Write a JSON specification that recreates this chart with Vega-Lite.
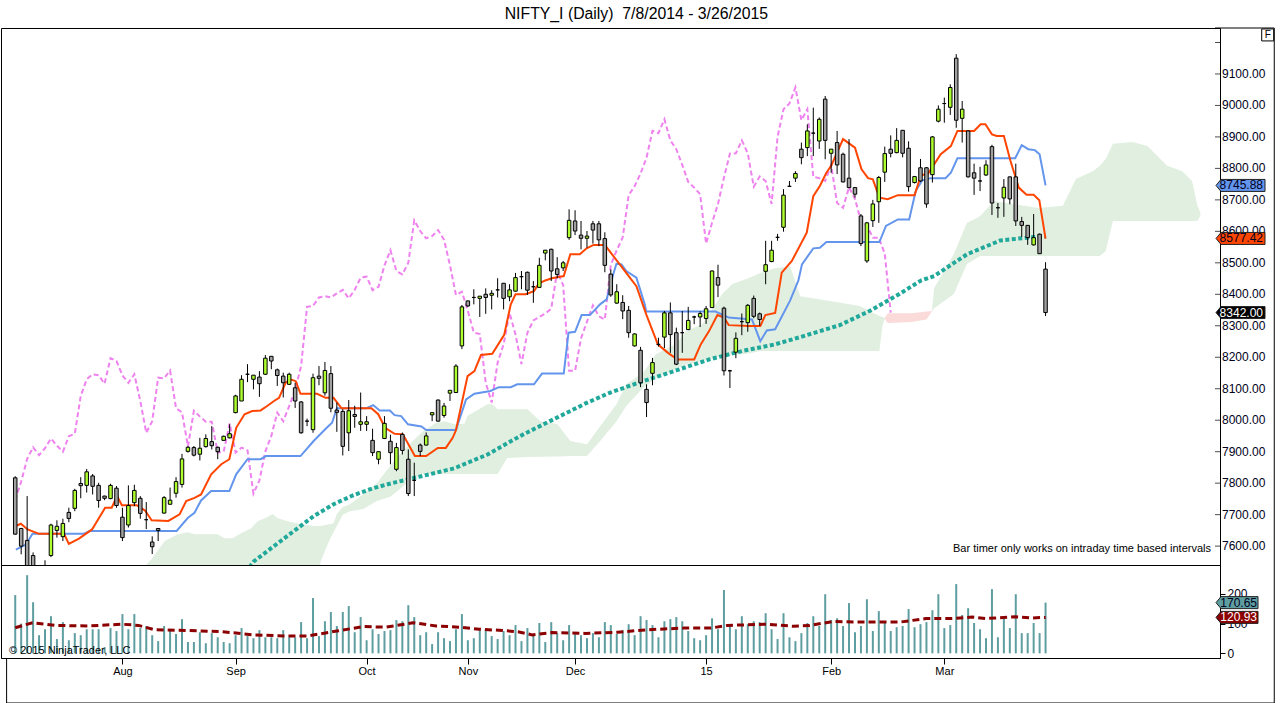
{
  "$schema": "https://vega.github.io/schema/vega-lite/v6.json",
  "autosize": {"type": "pad"},
  "padding": 0,
  "background": "white",
  "bounds": "flush",
  "spacing": 0,
  "config": {
    "view": {"stroke": "black", "strokeWidth": 1},
    "axis": {"grid": false, "labelFont": "Liberation Sans", "labelFontSize": 12, "labelColor": "#000020", "tickColor": "black", "domainColor": "black", "labelOverlap": false, "labelFlush": false, "labelBound": false}
  },
  "datasets": {
    "bars": [
      {"i":0,"o":7817,"h":7822,"l":7636,"c":7638,"v":196,"k":7746},
      {"i":1,"o":7656,"h":7658,"l":7574,"c":7600,"v":100,"k":7805},
      {"i":2,"o":7618,"h":7759,"l":7490,"c":7530,"v":263,"k":7877},
      {"i":3,"o":7570,"h":7580,"l":7450,"c":7470,"v":172,"k":7914},
      {"i":4,"o":7470,"h":7500,"l":7420,"c":7450,"v":61,"k":7889},
      {"i":5,"o":7460,"h":7555,"l":7440,"c":7535,"v":81,"k":7911},
      {"i":6,"o":7570,"h":7671,"l":7565,"c":7667,"v":125,"k":7942},
      {"i":7,"o":7650,"h":7682,"l":7627,"c":7663,"v":48,"k":7919},
      {"i":8,"o":7630,"h":7687,"l":7616,"c":7672,"v":105,"k":7900},
      {"i":9,"o":7707,"h":7722,"l":7676,"c":7688,"v":44,"k":7949},
      {"i":10,"o":7720,"h":7782,"l":7711,"c":7777,"v":68,"k":7957},
      {"i":11,"o":7799,"h":7819,"l":7752,"c":7792,"v":61,"k":8077},
      {"i":12,"o":7793,"h":7845,"l":7770,"c":7836,"v":81,"k":8130},
      {"i":13,"o":7823,"h":7829,"l":7764,"c":7790,"v":81,"k":8146},
      {"i":14,"o":7793,"h":7801,"l":7722,"c":7745,"v":81,"k":8143},
      {"i":15,"o":7759,"h":7760,"l":7746,"c":7752,"v":21,"k":8116},
      {"i":16,"o":7751,"h":7798,"l":7749,"c":7793,"v":85,"k":8197},
      {"i":17,"o":7784,"h":7791,"l":7722,"c":7729,"v":75,"k":8188},
      {"i":18,"o":7692,"h":7722,"l":7616,"c":7627,"v":132,"k":8142},
      {"i":19,"o":7667,"h":7793,"l":7659,"c":7729,"v":81,"k":8119},
      {"i":20,"o":7738,"h":7795,"l":7727,"c":7777,"v":132,"k":8146},
      {"i":21,"o":7752,"h":7759,"l":7687,"c":7704,"v":85,"k":8061},
      {"i":22,"o":7684,"h":7740,"l":7654,"c":7684,"v":92,"k":7960},
      {"i":23,"o":7613,"h":7631,"l":7575,"c":7598,"v":61,"k":7997},
      {"i":24,"o":7656,"h":7657,"l":7616,"c":7650,"v":41,"k":8135},
      {"i":25,"o":7705,"h":7759,"l":7703,"c":7754,"v":92,"k":8133},
      {"i":26,"o":7733,"h":7786,"l":7731,"c":7746,"v":75,"k":8158},
      {"i":27,"o":7768,"h":7819,"l":7754,"c":7805,"v":65,"k":8038},
      {"i":28,"o":7796,"h":7893,"l":7786,"c":7877,"v":115,"k":8025},
      {"i":29,"o":7901,"h":7918,"l":7897,"c":7914,"v":38,"k":7917},
      {"i":30,"o":7913,"h":7918,"l":7885,"c":7889,"v":38,"k":8030},
      {"i":31,"o":7892,"h":7944,"l":7872,"c":7911,"v":71,"k":8012},
      {"i":32,"o":7916,"h":7955,"l":7913,"c":7942,"v":34,"k":7995},
      {"i":33,"o":7932,"h":7981,"l":7907,"c":7919,"v":68,"k":7995},
      {"i":34,"o":7914,"h":7916,"l":7876,"c":7900,"v":54,"k":7897},
      {"i":35,"o":7936,"h":7951,"l":7934,"c":7949,"v":38,"k":7900},
      {"i":36,"o":7944,"h":7987,"l":7942,"c":7957,"v":34,"k":7990},
      {"i":37,"o":8024,"h":8081,"l":8022,"c":8077,"v":61,"k":7897},
      {"i":38,"o":8061,"h":8143,"l":8061,"c":8130,"v":85,"k":7913},
      {"i":39,"o":8146,"h":8178,"l":8121,"c":8146,"v":58,"k":7904},
      {"i":40,"o":8130,"h":8143,"l":8098,"c":8143,"v":51,"k":7767},
      {"i":41,"o":8137,"h":8156,"l":8074,"c":8116,"v":78,"k":7809},
      {"i":42,"o":8146,"h":8207,"l":8144,"c":8197,"v":54,"k":7901},
      {"i":43,"o":8203,"h":8204,"l":8162,"c":8188,"v":54,"k":7950},
      {"i":44,"o":8160,"h":8164,"l":8109,"c":8142,"v":51,"k":8024},
      {"i":45,"o":8140,"h":8151,"l":8072,"c":8119,"v":78,"k":7997},
      {"i":46,"o":8114,"h":8151,"l":8112,"c":8146,"v":54,"k":8045},
      {"i":47,"o":8103,"h":8119,"l":8039,"c":8061,"v":54,"k":8095},
      {"i":48,"o":8058,"h":8061,"l":7957,"c":7960,"v":105,"k":8172},
      {"i":49,"o":7997,"h":8005,"l":7981,"c":7997,"v":51,"k":8360},
      {"i":50,"o":7970,"h":8148,"l":7960,"c":8135,"v":186,"k":8363},
      {"i":51,"o":8140,"h":8172,"l":8111,"c":8133,"v":58,"k":8390},
      {"i":52,"o":8087,"h":8185,"l":8078,"c":8158,"v":108,"k":8394},
      {"i":53,"o":8148,"h":8172,"l":8025,"c":8038,"v":139,"k":8390},
      {"i":54,"o":8032,"h":8056,"l":7963,"c":8025,"v":92,"k":8403},
      {"i":55,"o":8028,"h":8035,"l":7888,"c":7917,"v":139,"k":8414},
      {"i":56,"o":7960,"h":8064,"l":7902,"c":8030,"v":159,"k":8387},
      {"i":57,"o":8018,"h":8046,"l":7976,"c":8012,"v":71,"k":8414},
      {"i":58,"o":7987,"h":8088,"l":7966,"c":7995,"v":122,"k":8453},
      {"i":59,"o":7987,"h":8013,"l":7966,"c":7995,"v":44,"k":8456},
      {"i":60,"o":7936,"h":7973,"l":7886,"c":7897,"v":81,"k":8413},
      {"i":61,"o":7876,"h":7900,"l":7860,"c":7900,"v":65,"k":8424},
      {"i":62,"o":7942,"h":8013,"l":7940,"c":7990,"v":75,"k":8492},
      {"i":63,"o":7933,"h":7954,"l":7860,"c":7897,"v":78,"k":8540},
      {"i":64,"o":7844,"h":7928,"l":7838,"c":7913,"v":112,"k":8474},
      {"i":65,"o":7955,"h":7961,"l":7891,"c":7904,"v":108,"k":8463},
      {"i":66,"o":7876,"h":7907,"l":7759,"c":7767,"v":162,"k":8500},
      {"i":67,"o":7809,"h":7865,"l":7759,"c":7809,"v":122,"k":8635},
      {"i":68,"o":7921,"h":7926,"l":7886,"c":7901,"v":61,"k":8601},
      {"i":69,"o":7921,"h":7961,"l":7920,"c":7950,"v":71,"k":8578},
      {"i":70,"o":8017,"h":8024,"l":7997,"c":8024,"v":31,"k":8585},
      {"i":71,"o":8064,"h":8066,"l":7995,"c":7997,"v":71,"k":8604},
      {"i":72,"o":8015,"h":8055,"l":8008,"c":8045,"v":51,"k":8573},
      {"i":73,"o":8086,"h":8095,"l":8061,"c":8095,"v":41,"k":8492},
      {"i":74,"o":8088,"h":8178,"l":8086,"c":8172,"v":81,"k":8398},
      {"i":75,"o":8236,"h":8366,"l":8226,"c":8360,"v":132,"k":8408},
      {"i":76,"o":8379,"h":8380,"l":8360,"c":8363,"v":44,"k":8347},
      {"i":77,"o":8390,"h":8416,"l":8368,"c":8390,"v":51,"k":8278},
      {"i":78,"o":8387,"h":8394,"l":8328,"c":8394,"v":78,"k":8274},
      {"i":79,"o":8400,"h":8419,"l":8338,"c":8390,"v":81,"k":8119},
      {"i":80,"o":8397,"h":8413,"l":8352,"c":8403,"v":58,"k":8056},
      {"i":81,"o":8414,"h":8451,"l":8390,"c":8414,"v":48,"k":8183},
      {"i":82,"o":8435,"h":8436,"l":8352,"c":8387,"v":75,"k":8241},
      {"i":83,"o":8392,"h":8432,"l":8378,"c":8414,"v":61,"k":8341},
      {"i":84,"o":8410,"h":8468,"l":8408,"c":8453,"v":95,"k":8272},
      {"i":85,"o":8456,"h":8474,"l":8416,"c":8456,"v":41,"k":8178},
      {"i":86,"o":8470,"h":8472,"l":8398,"c":8413,"v":85,"k":8278},
      {"i":87,"o":8424,"h":8442,"l":8373,"c":8424,"v":61,"k":8317},
      {"i":88,"o":8422,"h":8516,"l":8420,"c":8492,"v":102,"k":8328},
      {"i":89,"o":8531,"h":8541,"l":8508,"c":8540,"v":38,"k":8339},
      {"i":90,"o":8543,"h":8545,"l":8442,"c":8474,"v":105,"k":8354},
      {"i":91,"o":8481,"h":8518,"l":8451,"c":8463,"v":68,"k":8474},
      {"i":92,"o":8484,"h":8506,"l":8474,"c":8500,"v":44,"k":8429},
      {"i":93,"o":8580,"h":8670,"l":8573,"c":8635,"v":95,"k":8157},
      {"i":94,"o":8633,"h":8667,"l":8588,"c":8601,"v":68,"k":8157},
      {"i":95,"o":8588,"h":8633,"l":8543,"c":8578,"v":61,"k":8260},
      {"i":96,"o":8578,"h":8601,"l":8548,"c":8585,"v":51,"k":8313},
      {"i":97,"o":8624,"h":8633,"l":8561,"c":8604,"v":68,"k":8365},
      {"i":98,"o":8624,"h":8633,"l":8553,"c":8573,"v":54,"k":8330},
      {"i":99,"o":8577,"h":8597,"l":8470,"c":8492,"v":105,"k":8320},
      {"i":100,"o":8464,"h":8479,"l":8392,"c":8398,"v":95,"k":8494},
      {"i":101,"o":8372,"h":8432,"l":8370,"c":8408,"v":65,"k":8540},
      {"i":102,"o":8374,"h":8397,"l":8321,"c":8347,"v":78,"k":8581},
      {"i":103,"o":8349,"h":8363,"l":8262,"c":8278,"v":98,"k":8715},
      {"i":104,"o":8236,"h":8276,"l":8234,"c":8274,"v":61,"k":8743},
      {"i":105,"o":8222,"h":8233,"l":8105,"c":8119,"v":125,"k":8784},
      {"i":106,"o":8098,"h":8114,"l":8010,"c":8056,"v":112,"k":8834},
      {"i":107,"o":8149,"h":8198,"l":8111,"c":8183,"v":95,"k":8919},
      {"i":108,"o":8241,"h":8262,"l":8234,"c":8241,"v":54,"k":8912},
      {"i":109,"o":8264,"h":8347,"l":8229,"c":8341,"v":108,"k":8956},
      {"i":110,"o":8341,"h":8374,"l":8214,"c":8272,"v":115,"k":8889},
      {"i":111,"o":8278,"h":8294,"l":8175,"c":8178,"v":122,"k":8861},
      {"i":112,"o":8278,"h":8347,"l":8214,"c":8278,"v":108,"k":8811},
      {"i":113,"o":8288,"h":8360,"l":8286,"c":8317,"v":75,"k":8757},
      {"i":114,"o":8328,"h":8332,"l":8305,"c":8328,"v":51,"k":8739},
      {"i":115,"o":8328,"h":8346,"l":8296,"c":8339,"v":44,"k":8718},
      {"i":116,"o":8323,"h":8363,"l":8306,"c":8354,"v":61,"k":8561},
      {"i":117,"o":8358,"h":8476,"l":8356,"c":8474,"v":118,"k":8627},
      {"i":118,"o":8453,"h":8494,"l":8391,"c":8429,"v":81,"k":8687},
      {"i":119,"o":8356,"h":8361,"l":8142,"c":8157,"v":213,"k":8771},
      {"i":120,"o":8157,"h":8160,"l":8102,"c":8157,"v":92,"k":8847},
      {"i":121,"o":8216,"h":8279,"l":8197,"c":8260,"v":81,"k":8848},
      {"i":122,"o":8313,"h":8339,"l":8270,"c":8313,"v":125,"k":8889},
      {"i":123,"o":8310,"h":8369,"l":8281,"c":8365,"v":98,"k":8848},
      {"i":124,"o":8387,"h":8396,"l":8324,"c":8330,"v":108,"k":8742},
      {"i":125,"o":8338,"h":8342,"l":8300,"c":8320,"v":105,"k":8774},
      {"i":126,"o":8473,"h":8570,"l":8432,"c":8494,"v":135,"k":8760},
      {"i":127,"o":8504,"h":8570,"l":8502,"c":8540,"v":81,"k":8687},
      {"i":128,"o":8581,"h":8592,"l":8570,"c":8581,"v":48,"k":8900},
      {"i":129,"o":8613,"h":8734,"l":8599,"c":8715,"v":135,"k":8988},
      {"i":130,"o":8743,"h":8760,"l":8742,"c":8743,"v":54,"k":9006},
      {"i":131,"o":8769,"h":8791,"l":8757,"c":8784,"v":41,"k":9057},
      {"i":132,"o":8861,"h":8882,"l":8813,"c":8834,"v":68,"k":8953},
      {"i":133,"o":8866,"h":8940,"l":8839,"c":8919,"v":102,"k":8988},
      {"i":134,"o":8912,"h":8993,"l":8839,"c":8912,"v":125,"k":8773},
      {"i":135,"o":8887,"h":8962,"l":8862,"c":8956,"v":92,"k":8769},
      {"i":136,"o":9020,"h":9030,"l":8829,"c":8889,"v":199,"k":8760},
      {"i":137,"o":8848,"h":8861,"l":8786,"c":8861,"v":112,"k":8811},
      {"i":138,"o":8882,"h":8919,"l":8782,"c":8811,"v":118,"k":8690},
      {"i":139,"o":8845,"h":8850,"l":8755,"c":8757,"v":92,"k":8675},
      {"i":140,"o":8769,"h":8893,"l":8737,"c":8739,"v":169,"k":8740},
      {"i":141,"o":8739,"h":8740,"l":8707,"c":8718,"v":71,"k":8703},
      {"i":142,"o":8649,"h":8655,"l":8553,"c":8561,"v":92,"k":8633},
      {"i":143,"o":8506,"h":8630,"l":8500,"c":8627,"v":182,"k":8619},
      {"i":144,"o":8634,"h":8700,"l":8614,"c":8687,"v":75,"k":8580},
      {"i":145,"o":8694,"h":8776,"l":8627,"c":8771,"v":142,"k":8580},
      {"i":146,"o":8788,"h":8869,"l":8757,"c":8847,"v":108,"k":8529},
      {"i":147,"o":8861,"h":8905,"l":8835,"c":8848,"v":75,"k":8342},
      {"i":148,"o":8850,"h":8928,"l":8848,"c":8889,"v":88},
      {"i":149,"o":8921,"h":8922,"l":8835,"c":8848,"v":92},
      {"i":150,"o":8864,"h":8886,"l":8726,"c":8742,"v":149},
      {"i":151,"o":8755,"h":8776,"l":8752,"c":8774,"v":88},
      {"i":152,"o":8802,"h":8830,"l":8757,"c":8760,"v":98},
      {"i":153,"o":8802,"h":8804,"l":8675,"c":8687,"v":105},
      {"i":154,"o":8780,"h":8903,"l":8755,"c":8900,"v":145},
      {"i":155,"o":8950,"h":9000,"l":8946,"c":8988,"v":199},
      {"i":156,"o":9006,"h":9025,"l":8945,"c":9006,"v":85},
      {"i":157,"o":8994,"h":9067,"l":8970,"c":9057,"v":95},
      {"i":158,"o":9150,"h":9163,"l":8929,"c":8953,"v":233},
      {"i":159,"o":8959,"h":9014,"l":8882,"c":8988,"v":129},
      {"i":160,"o":8919,"h":8920,"l":8771,"c":8773,"v":152},
      {"i":161,"o":8786,"h":8815,"l":8716,"c":8769,"v":102},
      {"i":162,"o":8760,"h":8805,"l":8728,"c":8760,"v":81},
      {"i":163,"o":8779,"h":8826,"l":8776,"c":8811,"v":51},
      {"i":164,"o":8869,"h":8875,"l":8652,"c":8690,"v":216},
      {"i":165,"o":8675,"h":8690,"l":8643,"c":8675,"v":54},
      {"i":166,"o":8706,"h":8766,"l":8646,"c":8740,"v":118},
      {"i":167,"o":8773,"h":8774,"l":8686,"c":8703,"v":85},
      {"i":168,"o":8773,"h":8815,"l":8617,"c":8633,"v":199},
      {"i":169,"o":8631,"h":8646,"l":8582,"c":8619,"v":68},
      {"i":170,"o":8619,"h":8620,"l":8557,"c":8580,"v":68},
      {"i":171,"o":8557,"h":8655,"l":8555,"c":8580,"v":102},
      {"i":172,"o":8591,"h":8593,"l":8528,"c":8529,"v":68},
      {"i":173,"o":8480,"h":8502,"l":8331,"c":8342,"v":170.65}
    ],
    "tenkan": [
      {"i":0.1,"p":7664},{"i":0.95,"p":7671},{"i":2.07,"p":7653},{"i":4.0,"p":7639},{"i":8.2,"p":7639},{"i":9.0,"p":7607},{"i":10.7,"p":7624},{"i":12.9,"p":7653},{"i":15.1,"p":7722},{"i":16.2,"p":7722},{"i":17.1,"p":7759},{"i":17.9,"p":7730},{"i":20.4,"p":7730},{"i":21.8,"p":7713},{"i":22.9,"p":7682},{"i":25.7,"p":7680},{"i":27.6,"p":7701},{"i":28.7,"p":7743},{"i":30.1,"p":7753},{"i":31.2,"p":7764},{"i":32.9,"p":7828},{"i":34.6,"p":7860},{"i":35.95,"p":7876},{"i":37.1,"p":7976},{"i":38.5,"p":8019},{"i":39.8,"p":8029},{"i":41.2,"p":8031},{"i":42.3,"p":8045},{"i":43.45,"p":8061},{"i":44.3,"p":8071},{"i":45.4,"p":8119},{"i":46.2,"p":8130},{"i":47.1,"p":8124},{"i":47.9,"p":8084},{"i":50.7,"p":8084},{"i":52.1,"p":8071},{"i":53.45,"p":8071},{"i":54.8,"p":8038},{"i":59.8,"p":8038},{"i":60.95,"p":8019},{"i":62.1,"p":7976},{"i":63.7,"p":7957},{"i":65.1,"p":7955},{"i":66.5,"p":7907},{"i":67.1,"p":7886},{"i":69.0,"p":7886},{"i":70.95,"p":7912},{"i":72.3,"p":7912},{"i":73.45,"p":7944},{"i":74.0,"p":7968},{"i":75.95,"p":8140},{"i":77.1,"p":8156},{"i":78.2,"p":8207},{"i":80.1,"p":8211},{"i":82.1,"p":8271},{"i":83.2,"p":8368},{"i":84.0,"p":8400},{"i":85.7,"p":8400},{"i":87.1,"p":8410},{"i":87.9,"p":8434},{"i":89.0,"p":8444},{"i":90.1,"p":8451},{"i":92.1,"p":8458},{"i":93.2,"p":8527},{"i":94.8,"p":8527},{"i":95.95,"p":8546},{"i":97.1,"p":8557},{"i":99.0,"p":8557},{"i":99.8,"p":8537},{"i":101.5,"p":8495},{"i":103.2,"p":8453},{"i":104.3,"p":8426},{"i":105.95,"p":8336},{"i":107.9,"p":8241},{"i":109.6,"p":8214},{"i":111.2,"p":8193},{"i":114.0,"p":8193},{"i":115.1,"p":8241},{"i":116.5,"p":8283},{"i":117.9,"p":8334},{"i":119.0,"p":8326},{"i":119.8,"p":8302},{"i":123.2,"p":8299},{"i":125.1,"p":8299},{"i":125.95,"p":8334},{"i":127.6,"p":8341},{"i":128.7,"p":8469},{"i":130.4,"p":8506},{"i":132.9,"p":8596},{"i":134.0,"p":8712},{"i":135.1,"p":8744},{"i":136.2,"p":8786},{"i":137.0,"p":8808},{"i":139.0,"p":8893},{"i":141.0,"p":8866},{"i":142.1,"p":8797},{"i":143.2,"p":8769},{"i":144.0,"p":8765},{"i":145.1,"p":8707},{"i":146.5,"p":8702},{"i":148.2,"p":8715},{"i":151.0,"p":8715},{"i":152.1,"p":8779},{"i":153.2,"p":8781},{"i":155.4,"p":8845},{"i":157.1,"p":8871},{"i":158.2,"p":8919},{"i":161.0,"p":8919},{"i":162.1,"p":8940},{"i":162.9,"p":8940},{"i":164.0,"p":8908},{"i":164.8,"p":8903},{"i":166.0,"p":8903},{"i":167.1,"p":8824},{"i":168.5,"p":8739},{"i":169.8,"p":8716},{"i":171.0,"p":8716},{"i":171.95,"p":8699},{"i":173.0,"p":8577}
    ],
    "kijun": [
      {"i":0.1,"p":7589},{"i":1.8,"p":7605},{"i":2.9,"p":7639},{"i":11.5,"p":7639},{"i":12.5,"p":7648},{"i":27.1,"p":7648},{"i":29.0,"p":7690},{"i":30.1,"p":7706},{"i":31.2,"p":7745},{"i":32.9,"p":7775},{"i":35.95,"p":7775},{"i":37.1,"p":7828},{"i":39.0,"p":7876},{"i":41.2,"p":7876},{"i":42.1,"p":7886},{"i":47.9,"p":7886},{"i":50.1,"p":7934},{"i":52.3,"p":7976},{"i":53.2,"p":7992},{"i":54.0,"p":8038},{"i":59.0,"p":8038},{"i":60.1,"p":8048},{"i":61.2,"p":8031},{"i":62.9,"p":8031},{"i":63.7,"p":8016},{"i":64.8,"p":8013},{"i":65.95,"p":7987},{"i":68.2,"p":7980},{"i":69.0,"p":7969},{"i":74.0,"p":7969},{"i":75.7,"p":8066},{"i":77.1,"p":8084},{"i":79.8,"p":8093},{"i":81.2,"p":8105},{"i":83.2,"p":8105},{"i":84.3,"p":8114},{"i":87.1,"p":8114},{"i":88.45,"p":8148},{"i":92.1,"p":8148},{"i":92.9,"p":8278},{"i":94.0,"p":8281},{"i":95.1,"p":8334},{"i":96.5,"p":8334},{"i":98.2,"p":8368},{"i":99.3,"p":8384},{"i":100.4,"p":8463},{"i":100.95,"p":8497},{"i":101.8,"p":8495},{"i":102.6,"p":8474},{"i":104.3,"p":8453},{"i":105.7,"p":8368},{"i":105.95,"p":8345},{"i":117.6,"p":8345},{"i":119.8,"p":8326},{"i":123.7,"p":8320},{"i":125.1,"p":8251},{"i":126.2,"p":8285},{"i":127.6,"p":8289},{"i":130.1,"p":8380},{"i":131.5,"p":8444},{"i":132.1,"p":8495},{"i":134.0,"p":8546},{"i":135.1,"p":8548},{"i":136.2,"p":8566},{"i":145.1,"p":8566},{"i":146.2,"p":8617},{"i":148.2,"p":8638},{"i":150.1,"p":8638},{"i":151.2,"p":8728},{"i":152.3,"p":8762},{"i":153.7,"p":8769},{"i":156.2,"p":8769},{"i":157.1,"p":8786},{"i":158.2,"p":8832},{"i":167.9,"p":8832},{"i":169.0,"p":8874},{"i":170.1,"p":8861},{"i":171.2,"p":8858},{"i":172.0,"p":8845},{"i":173.0,"p":8746}
    ],
    "cloud": [
      {"i":22.1,"t":7543,"b":7500,"s":"g1"},{"i":22.9,"t":7559,"b":7500,"s":"g1"},{"i":25.1,"t":7616,"b":7500,"s":"g1"},{"i":27.3,"t":7638,"b":7500,"s":"g1"},{"i":29.0,"t":7644,"b":7500,"s":"g1"},{"i":30.1,"t":7638,"b":7500,"s":"g1"},{"i":34.0,"t":7638,"b":7500,"s":"g1"},{"i":35.1,"t":7625,"b":7500,"s":"g1"},{"i":36.5,"t":7625,"b":7500,"s":"g1"},{"i":37.9,"t":7641,"b":7500,"s":"g1"},{"i":39.6,"t":7657,"b":7500,"s":"g1"},{"i":40.7,"t":7679,"b":7500,"s":"g1"},{"i":42.3,"t":7692,"b":7500,"s":"g1"},{"i":43.2,"t":7702,"b":7500,"s":"g1"},{"i":44.0,"t":7689,"b":7500,"s":"g1"},{"i":45.7,"t":7679,"b":7500,"s":"g1"},{"i":47.9,"t":7670,"b":7500,"s":"g1"},{"i":50.1,"t":7664,"b":7500,"s":"g1"},{"i":50.9,"t":7664,"b":7500,"s":"g1"},{"i":51.3,"t":7664,"b":7552,"s":"g1"},{"i":52.9,"t":7670,"b":7625,"s":"g1"},{"i":53.45,"t":7673,"b":7644,"s":"g1"},{"i":54.0,"t":7702,"b":7664,"s":"g1"},{"i":55.0,"t":7724,"b":7700,"s":"g1"},{"i":56.2,"t":7733,"b":7711,"s":"g1"},{"i":58.45,"t":7765,"b":7718,"s":"g1"},{"i":60.7,"t":7800,"b":7743,"s":"g1"},{"i":62.9,"t":7854,"b":7756,"s":"g1"},{"i":64.0,"t":7880,"b":7772,"s":"g1"},{"i":66.2,"t":7924,"b":7807,"s":"g1"},{"i":68.45,"t":7965,"b":7829,"s":"g1"},{"i":70.6,"t":7991,"b":7829,"s":"g1"},{"i":72.1,"t":7997,"b":7829,"s":"g1"},{"i":73.7,"t":7988,"b":7829,"s":"g1"},{"i":75.4,"t":7988,"b":7829,"s":"g1"},{"i":75.9,"t":8013,"b":7829,"s":"g1"},{"i":79.3,"t":8051,"b":7829,"s":"g1"},{"i":80.1,"t":8051,"b":7829,"s":"g1"},{"i":81.0,"t":8035,"b":7829,"s":"g1"},{"i":82.6,"t":8035,"b":7880,"s":"g1"},{"i":86.0,"t":8035,"b":7883,"s":"g1"},{"i":88.2,"t":7997,"b":7884,"s":"g1"},{"i":91.0,"t":7988,"b":7885,"s":"g1"},{"i":93.2,"t":7934,"b":7886,"s":"g1"},{"i":96.0,"t":7924,"b":7886,"s":"g1"},{"i":98.5,"t":7988,"b":7940,"s":"g1"},{"i":100.95,"t":8051,"b":7997,"s":"g1"},{"i":102.6,"t":8115,"b":8045,"s":"g1"},{"i":105.4,"t":8150,"b":8102,"s":"g1"},{"i":107.6,"t":8210,"b":8134,"s":"g1"},{"i":110.95,"t":8242,"b":8163,"s":"g1"},{"i":112.6,"t":8283,"b":8178,"s":"g1"},{"i":115.4,"t":8306,"b":8188,"s":"g1"},{"i":118.7,"t":8401,"b":8204,"s":"g1"},{"i":120.4,"t":8433,"b":8207,"s":"g1"},{"i":123.2,"t":8452,"b":8212,"s":"g1"},{"i":125.1,"t":8468,"b":8220,"s":"g1"},{"i":127.6,"t":8483,"b":8220,"s":"g1"},{"i":130.1,"t":8490,"b":8220,"s":"g1"},{"i":131.8,"t":8394,"b":8220,"s":"g1"},{"i":136.8,"t":8379,"b":8220,"s":"g1"},{"i":141.8,"t":8363,"b":8220,"s":"g1"},{"i":145.1,"t":8331,"b":8220,"s":"g1"},{"i":145.6,"t":8328,"b":8300,"s":"g1"},{"i":146.0,"t":8325,"b":8322,"s":"g1"},
      {"i":146.0,"t":8325,"b":8322,"s":"p"},{"i":146.5,"t":8340,"b":8309,"s":"p"},{"i":150.5,"t":8340,"b":8312,"s":"p"},{"i":153.0,"t":8345,"b":8320,"s":"p"},{"i":153.9,"t":8347,"b":8345,"s":"p"},
      {"i":153.9,"t":8347,"b":8345,"s":"g2"},{"i":154.3,"t":8420,"b":8356,"s":"g2"},{"i":157.6,"t":8528,"b":8401,"s":"g2"},{"i":159.8,"t":8627,"b":8496,"s":"g2"},{"i":161.5,"t":8642,"b":8515,"s":"g2"},{"i":162.1,"t":8650,"b":8522,"s":"g2"},{"i":164.3,"t":8696,"b":8522,"s":"g2"},{"i":171.8,"t":8674,"b":8522,"s":"g2"},{"i":175.9,"t":8681,"b":8522,"s":"g2"},{"i":178.1,"t":8766,"b":8522,"s":"g2"},{"i":181.0,"t":8792,"b":8522,"s":"g2"},{"i":182.1,"t":8808,"b":8522,"s":"g2"},{"i":183.1,"t":8830,"b":8537,"s":"g2"},{"i":184.3,"t":8878,"b":8633,"s":"g2"},{"i":187.6,"t":8884,"b":8633,"s":"g2"},{"i":190.1,"t":8871,"b":8633,"s":"g2"},{"i":193.4,"t":8808,"b":8633,"s":"g2"},{"i":195.9,"t":8792,"b":8633,"s":"g2"},{"i":197.6,"t":8760,"b":8633,"s":"g2"},{"i":198.5,"t":8681,"b":8633,"s":"g2"},{"i":199.0,"t":8660,"b":8650,"s":"g2"}
    ],
    "sma": [
      {"i":38,"p":7500},{"i":40.1,"p":7552},{"i":43.45,"p":7600},{"i":46.8,"p":7648},{"i":50.1,"p":7695},{"i":53.45,"p":7733},{"i":56.8,"p":7762},{"i":60.1,"p":7784},{"i":63.45,"p":7801},{"i":68.2,"p":7822},{"i":73.7,"p":7847},{"i":79.3,"p":7891},{"i":84.8,"p":7950},{"i":90.4,"p":8003},{"i":95.95,"p":8055},{"i":99.8,"p":8087},{"i":105.4,"p":8124},{"i":110.95,"p":8158},{"i":116.5,"p":8193},{"i":122.1,"p":8220},{"i":127.6,"p":8241},{"i":131.8,"p":8264},{"i":138.45,"p":8302},{"i":143.45,"p":8347},{"i":148.45,"p":8401},{"i":152.1,"p":8444},{"i":154.3,"p":8458},{"i":159.8,"p":8527},{"i":165.4,"p":8571},{"i":171.0,"p":8582},{"i":173.0,"p":8584}
    ],
    "vma": [
      {"i":0,"v":86},{"i":2.9,"v":103},{"i":6.8,"v":94},{"i":12.3,"v":92},{"i":17.9,"v":98},{"i":20.7,"v":94},{"i":23.5,"v":79},{"i":29.0,"v":77},{"i":34.6,"v":73},{"i":40.1,"v":62},{"i":45.7,"v":58},{"i":49.0,"v":58},{"i":54.0,"v":75},{"i":58.5,"v":90},{"i":62.3,"v":88},{"i":66.8,"v":103},{"i":70.7,"v":92},{"i":74.6,"v":88},{"i":77.9,"v":81},{"i":81.8,"v":77},{"i":84.6,"v":72},{"i":86.8,"v":62},{"i":90.1,"v":70},{"i":95.7,"v":67},{"i":101.2,"v":71},{"i":104.6,"v":77},{"i":107.9,"v":81},{"i":112.3,"v":85},{"i":116.8,"v":85},{"i":119.6,"v":94},{"i":126.2,"v":98},{"i":130.7,"v":91},{"i":133.4,"v":94},{"i":137.3,"v":107},{"i":142.9,"v":105},{"i":148.5,"v":105},{"i":152.9,"v":117},{"i":157.3,"v":117},{"i":160.7,"v":122},{"i":162.9,"v":117},{"i":167.9,"v":123},{"i":170.7,"v":119},{"i":173,"v":120.93}
    ],
    "ticks": [
      {"v":7600,"lab":"7600.00"},{"v":7700,"lab":"7700.00"},{"v":7800,"lab":"7800.00"},{"v":7900,"lab":"7900.00"},{"v":8000,"lab":"8000.00"},{"v":8100,"lab":"8100.00"},{"v":8200,"lab":"8200.00"},{"v":8300,"lab":"8300.00"},{"v":8400,"lab":"8400.00"},{"v":8500,"lab":"8500.00"},{"v":8600,"lab":"8600.00"},{"v":8700,"lab":"8700.00"},{"v":8800,"lab":"8800.00"},{"v":8900,"lab":"8900.00"},{"v":9000,"lab":"9000.00"},{"v":9100,"lab":"9100.00"},{"v":9200,"lab":""}
    ]
  },
  "vconcat": [
    {
      "width": 1219,
      "height": 537,
      "layer": [
        {
          "data": {"name": "cloud"},
          "mark": {"type": "area", "clip": true, "opacity": 1},
          "encoding": {
            "x": {"field": "i", "type": "quantitative", "scale": {"domain": [-1.55, 201.45], "nice": false, "zero": false}, "axis": null},
            "y": {"field": "t", "type": "quantitative", "scale": {"domain": [7540, 9246], "nice": false, "zero": false}, "title": null,
              "axis": {"orient": "right", "title": null, "labels": false, "ticks": false, "domain": true}},
            "y2": {"field": "b"},
            "detail": {"field": "s"},
            "color": {"condition": {"test": "datum.s == 'p'", "value": "#fbdada"}, "value": "#e1efe1"}
          }
        },
        {
          "data": {"name": "bars"},
          "transform": [{"filter": "isValid(datum.k)"}],
          "mark": {"type": "line", "clip": true, "color": "#EE82EE", "strokeWidth": 2, "strokeDash": [5, 3]},
          "encoding": {
            "x": {"field": "i", "type": "quantitative", "scale": {"domain": [-1.55, 201.45], "nice": false, "zero": false}, "axis": null},
            "y": {"field": "k", "type": "quantitative", "scale": {"domain": [7540, 9246], "nice": false, "zero": false}, "title": null}
          }
        },
        {
          "data": {"name": "sma"},
          "mark": {"type": "line", "clip": true, "color": "#20A89A", "strokeWidth": 4, "strokeDash": [4, 2.5], "strokeCap": "butt"},
          "encoding": {
            "x": {"field": "i", "type": "quantitative", "scale": {"domain": [-1.55, 201.45], "nice": false, "zero": false}, "axis": null},
            "y": {"field": "p", "type": "quantitative", "scale": {"domain": [7540, 9246], "nice": false, "zero": false}, "title": null}
          }
        },
        {
          "data": {"name": "kijun"},
          "mark": {"type": "line", "clip": true, "color": "#6495ED", "strokeWidth": 2},
          "encoding": {
            "x": {"field": "i", "type": "quantitative", "scale": {"domain": [-1.55, 201.45], "nice": false, "zero": false}, "axis": null},
            "y": {"field": "p", "type": "quantitative", "scale": {"domain": [7540, 9246], "nice": false, "zero": false}, "title": null}
          }
        },
        {
          "data": {"name": "tenkan"},
          "mark": {"type": "line", "clip": true, "color": "#FF4500", "strokeWidth": 2},
          "encoding": {
            "x": {"field": "i", "type": "quantitative", "scale": {"domain": [-1.55, 201.45], "nice": false, "zero": false}, "axis": null},
            "y": {"field": "p", "type": "quantitative", "scale": {"domain": [7540, 9246], "nice": false, "zero": false}, "title": null}
          }
        },
        {
          "data": {"name": "bars"},
          "mark": {"type": "rule", "clip": true, "color": "black", "strokeWidth": 1},
          "encoding": {
            "x": {"field": "i", "type": "quantitative", "scale": {"domain": [-1.55, 201.45], "nice": false, "zero": false}, "axis": null},
            "y": {"field": "l", "type": "quantitative", "scale": {"domain": [7540, 9246], "nice": false, "zero": false}, "title": null},
            "y2": {"field": "h"}
          }
        },
        {
          "data": {"name": "bars"},
          "mark": {"type": "bar", "clip": true, "width": 3.5, "stroke": "black", "strokeWidth": 1},
          "encoding": {
            "x": {"field": "i", "type": "quantitative", "scale": {"domain": [-1.55, 201.45], "nice": false, "zero": false}, "axis": null},
            "y": {"field": "o", "type": "quantitative", "scale": {"domain": [7540, 9246], "nice": false, "zero": false}, "title": null},
            "y2": {"field": "c"},
            "color": {"condition": {"test": "datum.c >= datum.o", "value": "#ADFF2F"}, "value": "#A0A0A0"}
          }
        },
        {
          "data": {"name": "ticks"},
          "mark": {"type": "tick", "orient": "horizontal", "size": 5, "thickness": 1, "color": "black", "xOffset": 2.5, "clip": false},
          "encoding": {
            "x": {"datum": 201.45, "type": "quantitative", "scale": {"domain": [-1.55, 201.45], "nice": false, "zero": false}, "axis": null},
            "y": {"field": "v", "type": "quantitative", "scale": {"domain": [7540, 9246], "nice": false, "zero": false}, "title": null}
          }
        },
        {
          "data": {"name": "ticks"},
          "mark": {"type": "text", "align": "left", "baseline": "middle", "dx": 7, "font": "Liberation Sans", "fontSize": 12, "color": "#000020", "clip": false},
          "encoding": {
            "x": {"datum": 201.45, "type": "quantitative", "scale": {"domain": [-1.55, 201.45], "nice": false, "zero": false}, "axis": null},
            "y": {"field": "v", "type": "quantitative", "scale": {"domain": [7540, 9246], "nice": false, "zero": false}, "title": null},
            "text": {"field": "lab"}
          }
        },
        {
          "data": {"values": [{"y": 8745.88, "lab": "8745.88", "k": "a"}, {"y": 8577.42, "lab": "8577.42", "k": "b"}, {"y": 8342.0, "lab": "8342.00", "k": "c"}]},
          "mark": {"type": "point", "shape": "M1,0 L6,-6 L50,-6 L50,6 L6,6 Z", "size": 4, "filled": true, "opacity": 1, "stroke": "#222222", "strokeWidth": 1, "clip": false},
          "encoding": {
            "x": {"datum": 201.45, "type": "quantitative", "scale": {"domain": [-1.55, 201.45], "nice": false, "zero": false}, "axis": null},
            "y": {"field": "y", "type": "quantitative", "scale": {"domain": [7540, 9246], "nice": false, "zero": false}, "title": null},
            "color": {"condition": [{"test": "datum.k == 'a'", "value": "#6495ED"}, {"test": "datum.k == 'b'", "value": "#FF4500"}], "value": "#000000"}
          }
        },
        {
          "data": {"values": [{"y": 8745.88, "lab": "8745.88", "k": "a"}, {"y": 8577.42, "lab": "8577.42", "k": "b"}, {"y": 8342.0, "lab": "8342.00", "k": "c"}]},
          "mark": {"type": "text", "align": "right", "baseline": "middle", "dx": 48, "font": "Liberation Sans", "fontSize": 12, "clip": false},
          "encoding": {
            "x": {"datum": 201.45, "type": "quantitative", "scale": {"domain": [-1.55, 201.45], "nice": false, "zero": false}, "axis": null},
            "y": {"field": "y", "type": "quantitative", "scale": {"domain": [7540, 9246], "nice": false, "zero": false}, "title": null},
            "text": {"field": "lab"},
            "color": {"condition": {"test": "datum.k == 'c'", "value": "#ffffff"}, "value": "#000020"}
          }
        },
        {
          "data": {"values": [{"t": "Bar timer only works on intraday time based intervals"}]},
          "mark": {"type": "text", "align": "right", "baseline": "middle", "dx": -4, "font": "Liberation Sans", "fontSize": 11, "color": "black"},
          "encoding": {
            "x": {"datum": 201.45, "type": "quantitative", "scale": {"domain": [-1.55, 201.45], "nice": false, "zero": false}, "axis": null},
            "y": {"datum": 7590, "type": "quantitative", "scale": {"domain": [7540, 9246], "nice": false, "zero": false}, "title": null},
            "text": {"field": "t"}
          }
        },
        {
          "data": {"values": [{"t": "NIFTY_I (Daily)\u00a0 7/8/2014 - 3/26/2015"}]},
          "mark": {"type": "text", "align": "center", "baseline": "middle", "font": "Liberation Sans", "fontSize": 15.8, "color": "black", "clip": false},
          "encoding": {
            "x": {"datum": 104.3, "type": "quantitative", "scale": {"domain": [-1.55, 201.45], "nice": false, "zero": false}, "axis": null},
            "y": {"datum": 9289, "type": "quantitative", "scale": {"domain": [7540, 9246], "nice": false, "zero": false}, "title": null},
            "text": {"field": "t"}
          }
        },
        {
          "data": {"values": [{"t": "F"}]},
          "mark": {"type": "point", "shape": "square", "size": 144, "filled": true, "color": "white", "stroke": "black", "strokeWidth": 1, "opacity": 1, "clip": false},
          "encoding": {
            "x": {"datum": 210.3, "type": "quantitative", "scale": {"domain": [-1.55, 201.45], "nice": false, "zero": false}, "axis": null},
            "y": {"datum": 9224, "type": "quantitative", "scale": {"domain": [7540, 9246], "nice": false, "zero": false}, "title": null}
          }
        },
        {
          "data": {"values": [{"t": "F"}]},
          "mark": {"type": "text", "align": "center", "baseline": "middle", "font": "Liberation Sans", "fontSize": 10, "color": "black", "clip": false},
          "encoding": {
            "x": {"datum": 210.3, "type": "quantitative", "scale": {"domain": [-1.55, 201.45], "nice": false, "zero": false}, "axis": null},
            "y": {"datum": 9224, "type": "quantitative", "scale": {"domain": [7540, 9246], "nice": false, "zero": false}, "title": null},
            "text": {"field": "t"}
          }
        },
        {
          "data": {"values": [{"x1": 201.45, "x2": 211.4, "y1": 9246, "y2": 9246, "o": 1}, {"x1": 211.4, "x2": 211.4, "y1": 9246, "y2": 7540, "o": 1}, {"x1": -1.45, "x2": 211.62, "y1": 9331.8, "y2": 9331.8, "o": 0}]},
          "mark": {"type": "rule", "color": "black", "strokeWidth": 1, "clip": false},
          "encoding": {
            "x": {"field": "x1", "type": "quantitative", "scale": {"domain": [-1.55, 201.45], "nice": false, "zero": false}, "axis": null},
            "x2": {"field": "x2"},
            "y": {"field": "y1", "type": "quantitative", "scale": {"domain": [7540, 9246], "nice": false, "zero": false}, "title": null},
            "y2": {"field": "y2"},
            "strokeOpacity": {"field": "o", "type": "quantitative", "scale": {"domain": [0, 1], "range": [0, 1]}, "legend": null}
          }
        }
      ]
    },
    {
      "width": 1219,
      "height": 93,
      "layer": [
        {
          "data": {"name": "bars"},
          "mark": {"type": "bar", "width": 2, "color": "#5F9EA0", "clip": true},
          "encoding": {
            "x": {"field": "i", "type": "quantitative", "scale": {"domain": [-1.55, 201.45], "nice": false, "zero": false}, "title": null,
              "axis": {"orient": "bottom", "title": null, "values": [18, 37, 59, 76, 94, 116, 137, 156], "labelExpr": "datum.value == 18 ? 'Aug' : datum.value == 37 ? 'Sep' : datum.value == 59 ? 'Oct' : datum.value == 76 ? 'Nov' : datum.value == 94 ? 'Dec' : datum.value == 116 ? '15' : datum.value == 137 ? 'Feb' : 'Mar'", "tickSize": 6, "labelPadding": 1, "labelFontSize": 11, "labelColor": "black", "domain": true, "labelOverlap": false}},
            "y": {"field": "v", "type": "quantitative", "scale": {"domain": [-15.8, 297.3], "nice": false, "zero": false}, "title": null,
              "axis": {"orient": "right", "title": null, "values": [0, 100, 200], "format": "d", "tickSize": 5, "labelPadding": 2, "labelOverlap": false}}
          }
        },
        {
          "data": {"name": "vma"},
          "mark": {"type": "line", "color": "#8B0000", "strokeWidth": 3, "strokeDash": [7, 4], "clip": true},
          "encoding": {
            "x": {"field": "i", "type": "quantitative", "scale": {"domain": [-1.55, 201.45], "nice": false, "zero": false}, "title": null},
            "y": {"field": "v", "type": "quantitative", "scale": {"domain": [-15.8, 297.3], "nice": false, "zero": false}, "title": null}
          }
        },
        {
          "data": {"values": [{"y": 170.65, "lab": "170.65", "k": "a"}, {"y": 120.93, "lab": "120.93", "k": "b"}]},
          "mark": {"type": "point", "shape": "M1,0 L6,-6 L43,-6 L43,6 L6,6 Z", "size": 4, "filled": true, "opacity": 1, "stroke": "#222222", "strokeWidth": 1, "clip": false},
          "encoding": {
            "x": {"datum": 201.45, "type": "quantitative", "scale": {"domain": [-1.55, 201.45], "nice": false, "zero": false}, "title": null},
            "y": {"field": "y", "type": "quantitative", "scale": {"domain": [-15.8, 297.3], "nice": false, "zero": false}, "title": null},
            "color": {"condition": {"test": "datum.k == 'a'", "value": "#5F9EA0"}, "value": "#8B0000"}
          }
        },
        {
          "data": {"values": [{"y": 170.65, "lab": "170.65", "k": "a"}, {"y": 120.93, "lab": "120.93", "k": "b"}]},
          "mark": {"type": "text", "align": "right", "baseline": "middle", "dx": 42, "font": "Liberation Sans", "fontSize": 12, "clip": false},
          "encoding": {
            "x": {"datum": 201.45, "type": "quantitative", "scale": {"domain": [-1.55, 201.45], "nice": false, "zero": false}, "title": null},
            "y": {"field": "y", "type": "quantitative", "scale": {"domain": [-15.8, 297.3], "nice": false, "zero": false}, "title": null},
            "text": {"field": "lab"},
            "color": {"condition": {"test": "datum.k == 'b'", "value": "#ffffff"}, "value": "#000020"}
          }
        },
        {
          "data": {"values": [{"t": "© 2015 NinjaTrader, LLC"}]},
          "mark": {"type": "text", "align": "left", "baseline": "middle", "dx": 3, "font": "Liberation Sans", "fontSize": 11, "color": "black"},
          "encoding": {
            "x": {"datum": -1.55, "type": "quantitative", "scale": {"domain": [-1.55, 201.45], "nice": false, "zero": false}, "title": null},
            "y": {"datum": 8, "type": "quantitative", "scale": {"domain": [-15.8, 297.3], "nice": false, "zero": false}, "title": null},
            "text": {"field": "t"}
          }
        },
        {
          "data": {"values": [{"x1": 211.4, "x2": 211.4, "y1": 297.3, "y2": -167.3, "o": 1}, {"x1": -1.45, "x2": 211.4, "y1": -167.3, "y2": -167.3, "o": 1}, {"x1": -1.45, "x2": -1.45, "y1": -15.8, "y2": -167.3, "o": 1}, {"x1": 211.62, "x2": 211.62, "y1": -15.8, "y2": -170.7, "o": 0}]},
          "mark": {"type": "rule", "color": "black", "strokeWidth": 1, "clip": false},
          "encoding": {
            "x": {"field": "x1", "type": "quantitative", "scale": {"domain": [-1.55, 201.45], "nice": false, "zero": false}, "title": null},
            "x2": {"field": "x2"},
            "y": {"field": "y1", "type": "quantitative", "scale": {"domain": [-15.8, 297.3], "nice": false, "zero": false}, "title": null},
            "y2": {"field": "y2"},
            "strokeOpacity": {"field": "o", "type": "quantitative", "scale": {"domain": [0, 1], "range": [0, 1]}, "legend": null}
          }
        }
      ]
    }
  ]
}
